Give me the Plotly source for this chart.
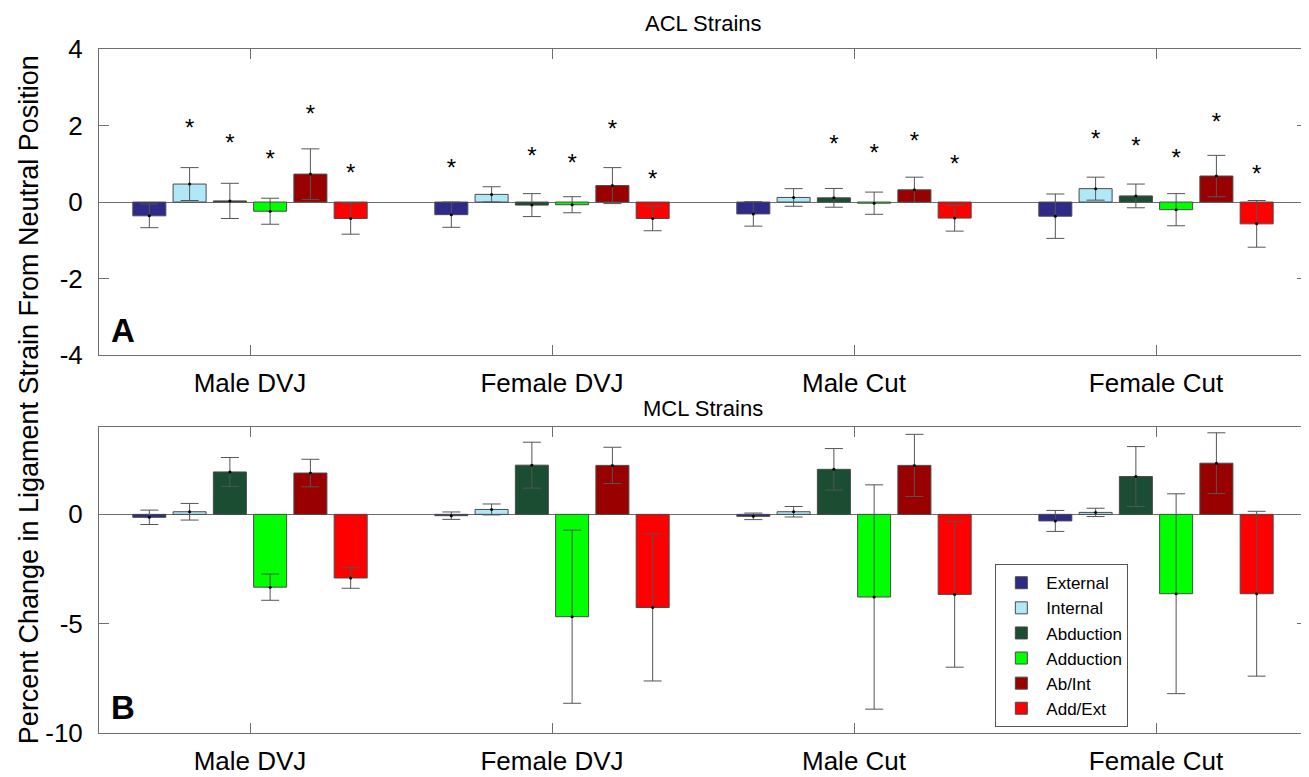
import plotly.graph_objects as go
from plotly.subplots import make_subplots

groups = ["Male DVJ", "Female DVJ", "Male Cut", "Female Cut"]
series = ["External", "Internal", "Abduction", "Adduction", "Ab/Int", "Add/Ext"]
colors = ["#2E2A87", "#B0E8F8", "#1B4D33", "#00FF00", "#990000", "#FF0000"]

acl_mean = {
    "External": [-0.36, -0.33, -0.31, -0.37],
    "Internal": [0.47, 0.20, 0.12, 0.35],
    "Abduction": [0.03, -0.08, 0.11, 0.16],
    "Adduction": [-0.24, -0.07, -0.03, -0.20],
    "Ab/Int": [0.73, 0.43, 0.32, 0.68],
    "Add/Ext": [-0.43, -0.43, -0.42, -0.57],
}
acl_sd = {
    "External": [0.31, 0.33, 0.32, 0.58],
    "Internal": [0.43, 0.20, 0.23, 0.30],
    "Abduction": [0.46, 0.30, 0.245, 0.31],
    "Adduction": [0.34, 0.21, 0.29, 0.42],
    "Ab/Int": [0.66, 0.47, 0.33, 0.54],
    "Add/Ext": [0.41, 0.32, 0.34, 0.61],
}
# height of significance asterisks (None = not significant)
acl_star = {
    "External": [None, 0.85, None, None],
    "Internal": [1.88, None, None, 1.60],
    "Abduction": [1.49, 1.16, 1.46, 1.42],
    "Adduction": [1.07, 0.96, 1.24, 1.09],
    "Ab/Int": [2.26, 1.86, 1.54, 2.05],
    "Add/Ext": [0.71, 0.54, 0.94, 0.68],
}
mcl_mean = {
    "External": [-0.135, -0.06, -0.09, -0.30],
    "Internal": [0.12, 0.225, 0.12, 0.09],
    "Abduction": [1.94, 2.25, 2.06, 1.73],
    "Adduction": [-3.33, -4.68, -3.78, -3.63],
    "Ab/Int": [1.89, 2.24, 2.24, 2.34],
    "Add/Ext": [-2.91, -4.26, -3.66, -3.63],
}
mcl_sd = {
    "External": [0.33, 0.17, 0.15, 0.48],
    "Internal": [0.38, 0.25, 0.24, 0.19],
    "Abduction": [0.66, 1.05, 0.95, 1.37],
    "Adduction": [0.60, 3.96, 5.13, 4.57],
    "Ab/Int": [0.63, 0.83, 1.42, 1.39],
    "Add/Ext": [0.47, 3.36, 3.33, 3.77],
}
acl_ticks = [-4, -2, 0, 2, 4]
mcl_ticks = [-10, -5, 0]

FONT = "Arial, Liberation Sans, sans-serif"
group_x = [1, 2, 3, 4]
BARGAP = 0.2
n = len(series)
slot = (1 - BARGAP) / n

fig = make_subplots(rows=2, cols=1, vertical_spacing=0.105)

for i, (s, c) in enumerate(zip(series, colors)):
    bar_x = [g - (1 - BARGAP) / 2 + slot * (i + 0.5) for g in group_x]
    for row, means, sds in [(1, acl_mean, acl_sd), (2, mcl_mean, mcl_sd)]:
        fig.add_trace(go.Bar(
            x=group_x, y=means[s], name=s, marker_color=c,
            marker_line=dict(color="#4a4a4a", width=1),
            error_y=dict(type="data", array=sds[s], color="#555555", thickness=1, width=9),
            showlegend=(row == 2), legendgroup=s,
        ), row=row, col=1)
        # small mean dots on the error bars
        fig.add_trace(go.Scatter(
            x=bar_x, y=means[s], mode="markers",
            marker=dict(size=3, color="black"),
            showlegend=False, hoverinfo="skip",
        ), row=row, col=1)
    # asterisks
    xs, ys = [], []
    for bx, yv in zip(bar_x, acl_star[s]):
        if yv is not None:
            xs.append(bx)
            ys.append(yv)
    fig.add_trace(go.Scatter(
        x=xs, y=ys, mode="text", text=["*"] * len(xs),
        textfont=dict(family=FONT, size=24, color="black"),
        showlegend=False, hoverinfo="skip",
    ), row=1, col=1)

axis_common = dict(
    showline=True, linecolor="#6e6e6e", linewidth=1, mirror="ticks",
    ticks="inside", ticklen=10, tickcolor="#6e6e6e",
    showgrid=False, tickfont=dict(family=FONT, size=26, color="black"),
)
for r in (1, 2):
    fig.update_xaxes(range=[0.5, 4.5], tickvals=group_x, ticktext=groups,
                     zeroline=False, ticklabelstandoff=5, row=r, col=1, **axis_common)
fig.update_yaxes(range=[-4, 4], tickvals=acl_ticks, ticktext=[str(t) for t in acl_ticks],
                 zeroline=True, zerolinecolor="#6e6e6e", zerolinewidth=1,
                 ticklabelstandoff=10, row=1, col=1, **axis_common)
fig.update_yaxes(range=[-10, 4], tickvals=mcl_ticks, ticktext=[str(t) for t in mcl_ticks],
                 zeroline=True, zerolinecolor="#6e6e6e", zerolinewidth=1,
                 ticklabelstandoff=10, row=2, col=1, **axis_common)

fig.update_layout(
    width=1309, height=777,
    margin=dict(l=91, r=9, t=41, b=39),
    paper_bgcolor="white", plot_bgcolor="white",
    barmode="group", bargap=BARGAP, bargroupgap=0.18,
    font=dict(family=FONT, color="black"),
    legend=dict(x=0.742, y=0.2468, xanchor="left", yanchor="top",
                bordercolor="#555555", borderwidth=1, bgcolor="white",
                font=dict(family=FONT, size=17, color="black"),
                tracegroupgap=0, itemwidth=40),
    annotations=[
        dict(text="ACL Strains", x=0.5, y=1.0, xref="paper", yref="paper",
             xanchor="center", yanchor="bottom", yshift=11, showarrow=False,
             font=dict(family=FONT, size=22)),
        dict(text="MCL Strains", x=0.5, y=0.446, xref="paper", yref="paper",
             xanchor="center", yanchor="bottom", yshift=5, showarrow=False,
             font=dict(family=FONT, size=22)),
        dict(text="<b>A</b>", x=0.008, y=0.558, xref="paper", yref="paper",
             xanchor="left", yanchor="bottom", showarrow=False,
             font=dict(family=FONT, size=33)),
        dict(text="<b>B</b>", x=0.008, y=0.007, xref="paper", yref="paper",
             xanchor="left", yanchor="bottom", showarrow=False,
             font=dict(family=FONT, size=33)),
        dict(text="Percent Change in Ligament Strain From Neutral Position",
             x=-0.058, y=0.488, xref="paper", yref="paper", textangle=-90,
             xanchor="center", yanchor="middle", showarrow=False,
             font=dict(family=FONT, size=27)),
    ],
)

fig.write_html("out.html")
